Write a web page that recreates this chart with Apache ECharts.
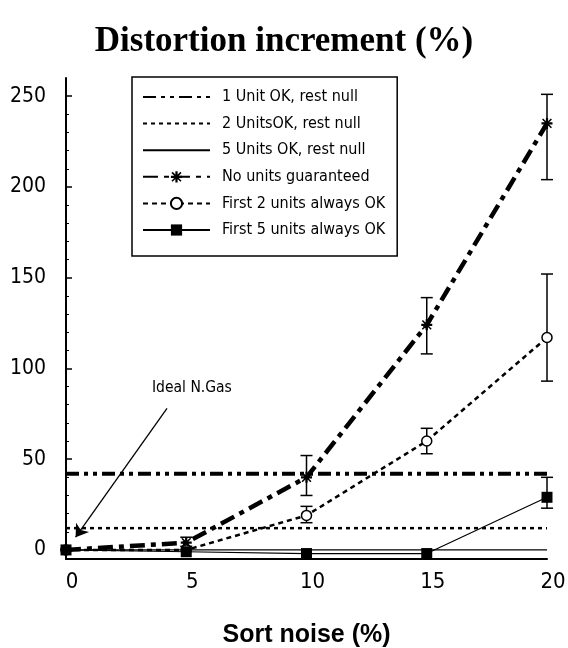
<!DOCTYPE html>
<html>
<head>
<meta charset="utf-8">
<script src="https://cdn.jsdelivr.net/npm/echarts@6/dist/echarts.min.js"></script>
<style>html,body{margin:0;padding:0;background:#fff}</style>
</head>
<body>
<div id="main" style="width:568px;height:648px"></div>
<script>
// 数据
var xValues = [0, 5, 10, 15, 20];
var oneUnitLevel = 42;
var twoUnitsLevel = 12;
var fiveUnitsLevel = 0;
var noUnits = [0, 4, 40, 124, 235];
var noUnitsLow = [null, 2, 30, 108, 204];
var noUnitsHigh = [null, 7, 52, 139, 251];
var firstTwo = [0, 0, 19, 60, 117];
var firstTwoLow = [null, null, 15, 53, 93];
var firstTwoHigh = [null, null, 24, 67, 152];
var firstFive = [0, -1, -2, -2, 29];
var firstFiveLow = [null, null, null, null, 23];
var firstFiveHigh = [null, null, null, null, 40];
var yTickLabels = [0, 50, 100, 150, 200, 250];
var yMinorTicks = [10, 20, 30, 40, 60, 70, 80, 90, 110, 120, 130, 140, 160, 170, 180, 190, 210, 220, 230, 240];
var arrowStart = [4.2, 78];
var arrowTip = [0.4, 7];

var narrow = "'Liberation Sans Narrow', 'DejaVu Sans Condensed', 'Liberation Sans', sans-serif";

function pairs(ys) {
  return xValues.map(function (x, i) { return [x, ys[i]]; });
}
function errData(lo, hi) {
  var out = [];
  xValues.forEach(function (x, i) {
    if (lo[i] != null) out.push([x, lo[i], hi[i]]);
  });
  return out;
}
function errSeries(lo, hi) {
  return {
    type: "custom",
    silent: true,
    data: errData(lo, hi),
    encode: { x: 0, y: [1, 2] },
    renderItem: function (params, api) {
      var p1 = api.coord([api.value(0), api.value(1)]);
      var p2 = api.coord([api.value(0), api.value(2)]);
      var w = 6;
      var st = { stroke: "#000", lineWidth: 1.5 };
      return {
        type: "group",
        children: [
          { type: "line", shape: { x1: p1[0], y1: p1[1], x2: p2[0], y2: p2[1] }, style: st },
          { type: "line", shape: { x1: p1[0] - w, y1: p1[1], x2: p1[0] + w, y2: p1[1] }, style: st },
          { type: "line", shape: { x1: p2[0] - w, y1: p2[1], x2: p2[0] + w, y2: p2[1] }, style: st }
        ]
      };
    }
  };
}

var star = "path://M-1,-5L1,-5L1,5L-1,5Z M-5,-1L5,-1L5,1L-5,1Z M-4.5,-3.5L-3.5,-4.5L4.5,3.5L3.5,4.5Z M3.5,-4.5L4.5,-3.5L-3.5,4.5L-4.5,3.5Z";
var noIcon = { opacity: 0 }; // 无标记的线在图例里只画线

var myChart = echarts.init(document.getElementById("main"));
var option = {
  backgroundColor: "#fff",
  animation: false,
  title: {
    text: "Distortion increment (%)",
    left: "center",
    top: 19,
    textStyle: { fontFamily: "'Liberation Serif', serif", fontSize: 35, fontWeight: "bold", color: "#000" }
  },
  legend: {
    orient: "vertical",
    left: 132,
    top: 77,
    padding: [12, 12, 18, 10],
    itemWidth: 67,
    itemHeight: 14,
    itemGap: 10.6,
    borderColor: "#000",
    borderWidth: 1.5,
    textStyle: { fontFamily: narrow, fontSize: 16, color: "#000", padding: [0, 0, 0, 7] },
    data: [
      { name: "1 Unit OK, rest null", itemStyle: noIcon },
      { name: "2 UnitsOK, rest null", itemStyle: noIcon },
      { name: "5 Units OK, rest null", itemStyle: noIcon },
      { name: "No units guaranteed" },
      { name: "First 2 units always OK" },
      { name: "First 5 units always OK" }
    ]
  },
  grid: { left: 66, right: 21, top: 78, bottom: 89, outerBoundsMode: "none" },
  xAxis: {
    type: "value",
    min: 0,
    max: 20,
    interval: 5,
    name: "Sort noise (%)",
    nameLocation: "middle",
    nameGap: 64,
    nameTextStyle: { fontFamily: "'Liberation Sans', sans-serif", fontSize: 25, fontWeight: "bold", color: "#000" },
    axisLine: { onZero: false, lineStyle: { color: "#000", width: 2 } },
    axisTick: { show: false },
    axisLabel: { fontFamily: narrow, fontSize: 22, color: "#000", margin: 12, padding: [0, 0, 0, 12] },
    splitLine: { show: false }
  },
  yAxis: [
    {
      type: "value",
      min: -5,
      max: 260,
      axisLine: { lineStyle: { color: "#000", width: 2 } },
      axisTick: { inside: true, length: 6, customValues: yTickLabels, lineStyle: { color: "#000", width: 1.5 } },
      axisLabel: { customValues: yTickLabels, fontFamily: narrow, fontSize: 21, color: "#000", margin: 20 },
      splitLine: { show: false }
    },
    {
      type: "value",
      min: -5,
      max: 260,
      position: "left",
      axisLine: { show: false },
      axisTick: { inside: true, length: 3, customValues: yMinorTicks, lineStyle: { color: "#000", width: 1 } },
      axisLabel: { show: false },
      splitLine: { show: false }
    }
  ],
  graphic: [
    { type: "text", left: 152, top: 380, style: { text: "Ideal N.Gas", fontFamily: narrow, fontSize: 15.5, fill: "#000" } }
  ],
  series: [
    {
      name: "1 Unit OK, rest null",
      type: "line",
      symbol: "none",
      color: "#000",
      lineStyle: { width: 4, type: [13, 5, 4, 5, 4, 5], cap: "butt" },
      data: [[0, oneUnitLevel], [20, oneUnitLevel]],
      markLine: {
        silent: true,
        symbol: ["none", "arrow"],
        symbolSize: 12,
        label: { show: false },
        lineStyle: { color: "#000", width: 1.3, type: "solid" },
        data: [[{ coord: arrowStart }, { coord: arrowTip }]]
      }
    },
    {
      name: "2 UnitsOK, rest null",
      type: "line",
      symbol: "none",
      color: "#000",
      lineStyle: { width: 2.5, type: [4, 4], cap: "butt" },
      data: [[0, twoUnitsLevel], [20, twoUnitsLevel]]
    },
    {
      name: "5 Units OK, rest null",
      type: "line",
      symbol: "none",
      color: "#000",
      lineStyle: { width: 1.2, type: "solid" },
      data: [[0, fiveUnitsLevel], [20, fiveUnitsLevel]]
    },
    {
      name: "No units guaranteed",
      type: "line",
      symbol: star,
      symbolSize: 11,
      color: "#000",
      lineStyle: { width: 4.5, type: [15, 6, 5, 6], cap: "butt" },
      data: pairs(noUnits)
    },
    {
      name: "First 2 units always OK",
      type: "line",
      symbol: "circle",
      symbolSize: 10,
      color: "#000",
      itemStyle: { color: "#fff", borderColor: "#000", borderWidth: 1.5 },
      lineStyle: { width: 2.5, color: "#000", type: [5, 4], cap: "butt" },
      data: pairs(firstTwo)
    },
    {
      name: "First 5 units always OK",
      type: "line",
      symbol: "rect",
      symbolSize: 11,
      color: "#000",
      lineStyle: { width: 1.2, type: "solid" },
      data: pairs(firstFive)
    },
    errSeries(noUnitsLow, noUnitsHigh),
    errSeries(firstTwoLow, firstTwoHigh),
    errSeries(firstFiveLow, firstFiveHigh)
  ]
};
myChart.setOption(option);
</script>
</body>
</html>
